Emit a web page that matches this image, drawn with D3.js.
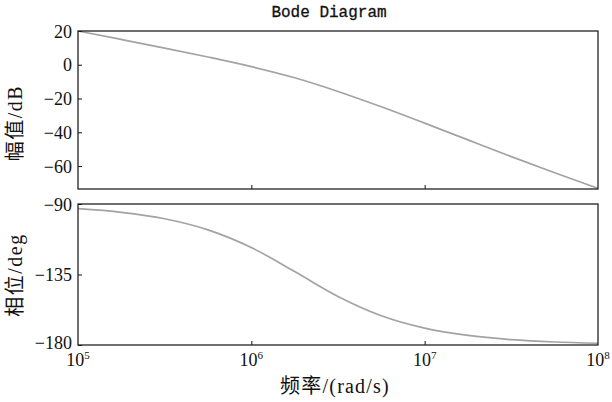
<!DOCTYPE html>
<html>
<head>
	<meta charset="utf-8">
	<title>Bode Diagram</title>
	<script src="https://cdnjs.cloudflare.com/ajax/libs/d3/7.8.5/d3.min.js"></script>
	<style type="text/css">
		body { margin: 0; background: #fff; }
		text { font-family: "Liberation Serif", "Noto Sans CJK SC", serif; fill: #111; }
		.domain { display: none; }
	</style>
</head>
<body>
	<script type="text/javascript">

		// frequencies read at quarter-decade steps (rad/s)
		let freqs = [1e5, 1.778e5, 3.162e5, 5.623e5, 1e6, 1.778e6, 3.162e6, 5.623e6, 1e7, 1.778e7, 3.162e7, 5.623e7, 1e8];
		let magDb = [20, 15.0, 9.9, 4.6, -1.1, -7.7, -15.8, -24.9, -34.6, -44.5, -54.4, -64.0, -73.2];
		let phaseDeg = [-93.0, -95.3, -99.4, -106.5, -117.8, -133.1, -149.0, -161.3, -169.2, -173.9, -176.6, -178.1, -178.9];
		let magTicks = [20, 0, -20, -40, -60];
		let phaseTicks = [-90, -135, -180];
		let freqTicks = [1e5, 1e6, 1e7, 1e8];

		let svg = d3.select('body').append('svg')
			.attr('width', 612)
			.attr('height', 402);

		let left = 78, right = 598;
		let top1 = 31, bot1 = 189;
		let top2 = 204, bot2 = 345;

		let xScale = d3.scaleLog().domain([1e5, 1e8]).range([left, right]);
		let yMag = d3.scaleLinear().domain([-73.6, 20]).range([bot1, top1]);
		let yPh = d3.scaleLinear().domain([-180, -90]).range([bot2, top2]);

		function panel(yScale, yTicks, values, yTop, yBot, id) {
			let g = svg.append('g');

			svg.append('clipPath').attr('id', id)
				.append('rect')
				.attr('x', left).attr('y', yTop)
				.attr('width', right - left).attr('height', yBot - yTop);

			// curve
			let line = d3.line()
				.x((d, i) => xScale(freqs[i]))
				.y(d => yScale(d))
				.curve(d3.curveMonotoneX);
			g.append('path')
				.datum(values)
				.attr('clip-path', 'url(#' + id + ')')
				.attr('d', line)
				.attr('fill', 'none')
				.attr('stroke', '#a3a3a3')
				.attr('stroke-width', 1.7);

			// y axis, ticks inside
			let ya = g.append('g')
				.attr('transform', 'translate(' + left + ',0)')
				.call(d3.axisLeft(yScale).tickValues(yTicks).tickSize(-4).tickPadding(6));
			ya.selectAll('line').attr('stroke', '#111');
			ya.selectAll('text')
				.style('font-size', '18px')
				.attr('dy', d => d === -180 ? '0.22em' : '0.34em');

			// x axis ticks, inside
			let xa = g.append('g')
				.attr('transform', 'translate(0,' + yBot + ')')
				.call(d3.axisBottom(xScale).tickValues(freqTicks.slice(1, -1)).tickSize(-4).tickFormat(''));
			xa.selectAll('line').attr('stroke', '#111');

			// frame
			g.append('rect')
				.attr('x', left).attr('y', yTop)
				.attr('width', right - left).attr('height', yBot - yTop)
				.attr('fill', 'none')
				.attr('stroke', '#222')
				.attr('stroke-width', 1.3);
			return g;
		}

		panel(yMag, magTicks, magDb, top1, bot1, 'clipMag');
		panel(yPh, phaseTicks, phaseDeg, top2, bot2, 'clipPh');

		// x tick labels 10^n
		let xl = svg.append('g').selectAll('text').data(freqTicks).enter().append('text')
			.attr('x', d => xScale(d))
			.attr('y', 366)
			.attr('text-anchor', 'middle')
			.style('font-size', '18px');
		xl.append('tspan').text('10');
		xl.append('tspan')
			.attr('dy', -7)
			.style('font-size', '11px')
			.text(d => Math.round(Math.log10(d)));

		// titles
		svg.append('text')
			.attr('x', 329).attr('y', 17)
			.attr('text-anchor', 'middle')
			.style('font-family', '"Liberation Mono", monospace')
			.style('font-size', '16px')
			.style('stroke', '#111')
			.style('stroke-width', 0.3)
			.text('Bode Diagram');

		svg.append('text')
			.attr('x', 335).attr('y', 393)
			.attr('text-anchor', 'middle')
			.style('font-size', '20px')
			.style('letter-spacing', '1.2px')
			.text('频率/(rad/s)');

		svg.append('text')
			.attr('transform', 'translate(22,123) rotate(-90)')
			.attr('text-anchor', 'middle')
			.style('font-size', '20px')
			.style('letter-spacing', '1.5px')
			.text('幅值/dB');

		svg.append('text')
			.attr('transform', 'translate(22,275) rotate(-90)')
			.attr('text-anchor', 'middle')
			.style('font-size', '20px')
			.style('letter-spacing', '1.5px')
			.text('相位/deg');
	</script>
</body>
</html>
